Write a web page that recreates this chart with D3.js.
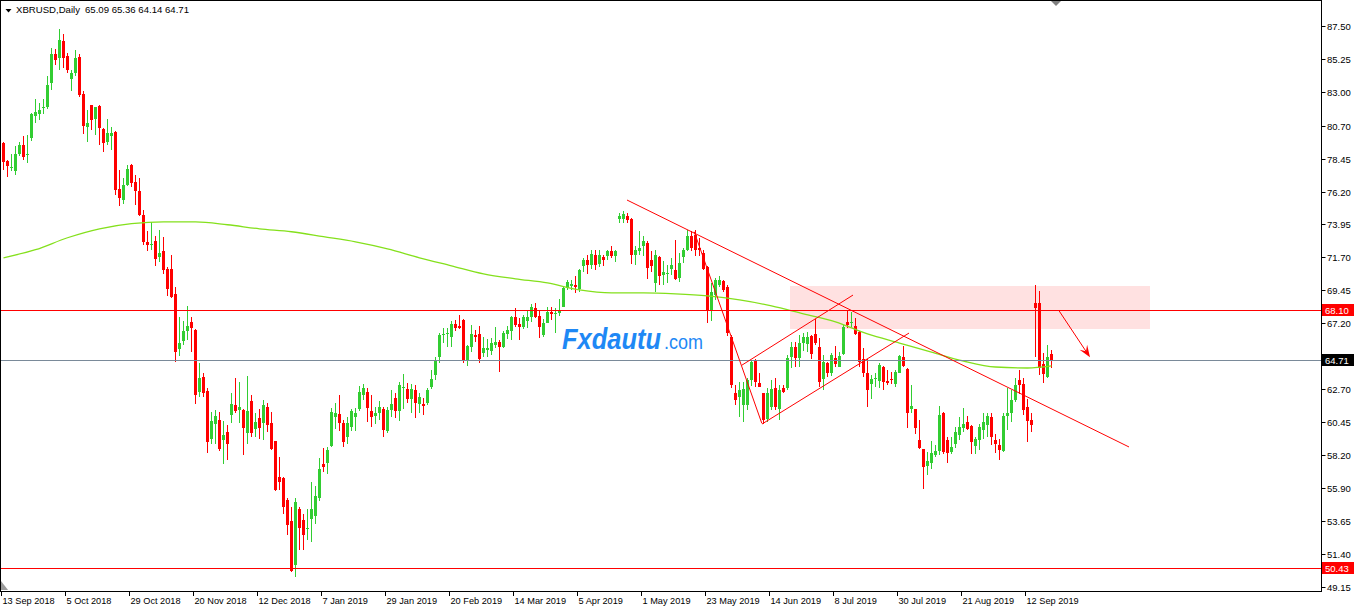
<!DOCTYPE html>
<html><head><meta charset="utf-8">
<script src="https://cdn.jsdelivr.net/npm/d3@7"></script>
<style>body{margin:0;background:#fff;}svg{display:block;font-family:"Liberation Sans",Arial,sans-serif;}</style>
</head><body><svg id="chart" width="1354" height="608"></svg>
<script>
// ---------- DATA ----------
const symbolLabel = "XBRUSD,Daily";
const lastQuote = [65.09, 65.36, 64.14, 64.71];
const startDate = "2018-09-13";
const holidays = ["2018-12-25","2019-01-01","2019-04-19","2019-04-22"];

const opens = [
79.53,78.31,77.81,77.58,78.80,79.39,78.70,79.85,81.36,81.49,
81.90,81.99,83.62,85.58,85.33,86.47,85.44,83.87,84.28,85.40,
82.84,80.60,82.09,81.13,82.04,80.46,79.62,79.98,80.26,76.37,
75.60,76.62,78.02,76.88,76.26,74.61,72.78,72.56,72.83,71.74,
72.15,70.87,70.91,69.20,65.43,65.98,66.67,67.28,66.73,62.51,
63.51,62.57,59.28,60.31,60.56,59.19,59.74,60.93,61.59,61.25,
61.27,59.70,61.89,59.97,60.72,60.38,61.48,60.36,59.12,56.68,
56.61,55.10,53.64,50.69,54.51,53.71,53.11,53.82,53.98,55.24,
57.55,57.64,58.83,60.75,60.98,60.38,59.42,60.11,60.79,61.32,
62.30,62.48,61.18,60.86,61.07,61.36,59.83,61.25,62.10,61.20,
62.76,62.69,62.00,62.62,61.66,61.66,61.75,62.80,63.65,64.91,
66.39,66.44,66.28,67.14,67.01,67.42,64.68,65.59,66.41,66.46,
65.13,65.36,65.32,65.71,65.93,65.59,66.46,66.69,67.65,67.14,
66.96,67.37,67.60,68.26,67.69,66.39,67.23,67.99,67.81,67.87,
68.33,69.59,69.75,69.82,69.52,71.08,71.53,71.19,71.87,71.26,
71.71,71.81,72.10,71.76,74.32,74.32,74.55,74.32,71.87,72.10,
72.45,72.67,71.49,69.93,71.71,70.50,70.57,70.89,70.80,70.27,
71.71,72.22,73.13,73.24,72.33,72.03,71.07,68.10,69.13,69.81,
70.09,69.70,66.27,62.44,62.16,61.59,61.59,63.31,64.63,63.12,
62.39,60.61,61.48,62.73,61.30,62.73,62.73,64.91,65.59,64.79,
65.82,65.77,66.32,66.46,65.54,63.35,64.49,63.76,64.79,64.22,
65.06,67.30,67.19,67.00,66.61,64.72,63.76,63.03,63.35,63.26,
64.22,63.26,63.39,63.07,63.80,64.90,64.05,61.33,61.31,59.19,
58.57,57.41,57.63,58.16,58.43,61.06,59.19,58.39,58.91,59.53,
60.06,60.44,60.15,58.77,59.22,59.87,60.22,60.79,59.19,58.84,
58.46,60.83,61.06,61.93,63.30,63.07,61.47,60.56,68.56,68.56,
64.40,63.53,65.09];

const highs = [
79.60,78.35,78.80,79.30,79.62,80.03,80.07,81.55,82.56,82.27,
82.56,84.10,86.04,85.92,87.29,86.95,85.65,84.51,85.85,85.58,
83.05,81.81,82.15,82.00,82.15,80.55,81.13,80.62,80.33,77.70,
77.15,78.00,78.05,77.36,77.15,74.96,73.52,74.13,73.13,73.58,
73.08,71.07,71.85,69.70,67.65,67.35,68.38,67.65,66.80,64.49,
63.79,62.73,61.11,61.25,61.09,60.50,60.22,62.41,63.42,63.19,
61.30,63.58,62.26,61.07,61.32,61.93,61.71,61.14,59.15,58.05,
56.68,55.24,54.62,55.24,54.62,54.17,54.51,56.34,56.04,57.98,
58.69,58.74,61.43,61.71,62.28,60.56,60.75,61.34,61.41,62.90,
63.06,62.78,62.28,61.48,61.87,61.48,61.48,62.62,62.44,63.19,
63.72,63.08,63.01,62.96,62.39,62.05,62.73,63.99,64.91,66.51,
66.85,66.85,67.37,67.42,67.76,67.49,65.71,67.08,66.73,67.01,
66.23,66.10,66.16,66.92,66.05,66.67,67.01,67.69,68.22,67.53,
67.76,68.06,68.52,68.56,68.06,67.46,68.29,68.29,68.22,68.84,
69.70,70.16,70.16,70.39,70.89,71.65,71.87,72.17,72.17,72.17,
71.87,72.22,72.49,72.22,74.73,74.84,74.73,74.39,72.45,73.47,
73.13,72.79,72.10,72.22,71.80,71.42,71.19,71.65,72.90,71.99,
72.33,73.59,73.47,73.59,73.01,72.22,71.10,69.93,70.27,70.39,
70.16,69.81,66.39,62.96,63.19,63.19,63.42,64.63,64.72,63.76,
62.44,62.73,63.31,63.42,62.96,62.96,65.02,65.93,65.93,66.39,
66.50,66.62,66.39,67.46,66.16,65.01,64.56,65.13,65.63,65.24,
67.07,68.10,67.98,67.53,66.65,65.47,64.72,63.64,63.80,64.45,
64.25,63.99,63.87,63.99,65.02,65.63,64.10,62.96,61.36,60.60,
58.60,58.39,59.14,58.84,61.52,61.10,59.41,59.41,60.10,60.79,
61.43,60.83,60.22,59.41,60.33,61.02,61.02,61.02,59.60,59.30,
61.06,62.73,62.61,63.48,63.99,63.48,62.04,61.02,69.81,69.42,
65.13,65.70,65.36];

const lows = [
77.65,77.20,77.58,77.35,78.61,78.38,78.15,79.64,80.90,81.08,
81.51,81.86,83.14,84.85,84.51,84.62,84.32,83.07,84.10,82.66,
80.12,79.57,80.44,80.10,79.37,78.89,79.37,79.07,75.98,75.18,
75.37,76.58,76.49,75.25,74.50,72.56,72.12,72.21,71.14,71.37,
70.57,69.08,68.90,64.56,64.95,65.71,66.05,65.25,61.66,62.16,
62.16,58.33,58.90,58.90,58.46,57.57,57.87,60.34,61.07,60.34,
58.17,58.92,59.42,59.42,59.28,59.19,59.76,58.51,55.72,55.77,
54.12,52.68,50.17,49.83,51.65,51.65,52.38,52.22,53.48,55.01,
57.02,56.86,58.74,59.97,59.81,58.74,58.92,59.83,59.83,61.18,
61.93,60.45,60.11,60.29,60.56,59.42,59.69,60.79,60.68,60.52,
61.36,61.71,61.07,60.68,61.02,60.95,61.59,62.67,63.31,64.45,
65.82,65.59,65.59,66.69,66.78,64.49,64.29,65.25,65.93,64.45,
64.86,64.91,65.02,65.48,63.88,65.48,66.10,66.05,66.96,66.05,
66.78,66.85,67.30,67.53,66.16,66.28,67.19,67.42,66.51,67.69,
68.29,69.47,69.47,69.25,69.36,70.73,70.57,70.89,70.85,71.03,
71.08,71.49,71.65,71.35,74.04,74.04,74.04,71.26,71.19,71.87,
71.76,70.21,70.73,69.36,69.81,69.81,69.93,70.50,70.16,70.04,
71.30,72.10,72.10,71.76,71.76,70.84,67.19,67.37,68.79,69.70,
69.36,66.32,62.73,61.59,60.79,60.45,61.25,62.89,62.85,62.80,
60.33,60.45,61.25,61.25,60.56,62.39,62.62,64.11,64.22,64.17,
65.31,65.24,64.72,65.70,62.84,62.62,63.53,63.58,64.22,64.17,
65.01,66.84,66.96,66.39,64.17,63.53,61.47,62.04,62.84,62.73,
62.66,62.96,63.07,62.84,63.76,64.22,60.06,61.08,59.64,58.62,
55.87,56.79,57.25,58.05,58.16,58.27,57.63,58.27,58.68,59.19,
59.76,59.87,58.27,58.23,58.55,59.30,59.41,58.84,58.32,57.82,
58.40,59.87,60.44,61.81,62.34,60.90,59.07,59.76,64.90,63.64,
63.12,63.48,64.14];

const closes = [
78.20,77.93,77.88,78.80,79.39,78.54,78.77,81.47,81.61,81.77,
81.99,83.52,85.58,85.19,86.54,85.33,84.51,84.28,85.31,82.77,
80.67,80.92,81.08,81.97,80.53,79.50,80.23,80.23,76.28,75.76,
76.67,77.77,76.81,76.21,74.57,72.72,72.51,72.60,71.62,72.03,
70.84,69.56,69.01,65.20,65.87,66.67,67.01,66.87,62.28,63.44,
62.44,59.08,60.50,60.84,58.60,59.54,58.92,61.66,61.20,61.46,
60.04,61.18,59.70,60.43,60.06,61.59,60.20,58.60,55.81,56.31,
54.62,53.37,50.28,54.97,53.18,52.68,53.21,54.51,55.35,57.21,
57.37,58.51,61.11,61.07,60.38,59.08,60.40,61.18,61.07,62.48,
62.76,61.41,60.79,61.04,61.48,59.92,61.25,61.66,61.20,62.96,
62.83,62.00,62.71,61.71,62.16,61.55,62.62,63.38,64.68,66.39,
66.46,66.51,67.14,66.85,66.89,64.68,65.64,66.46,66.28,64.75,
65.48,65.48,65.82,65.89,65.59,66.51,66.73,67.65,67.08,66.92,
67.65,67.65,68.29,67.60,66.92,67.23,67.99,67.81,67.92,68.10,
69.63,69.98,69.86,69.66,70.85,71.49,71.19,71.94,71.19,71.87,
71.49,72.10,71.81,72.15,74.55,74.66,74.27,71.87,72.22,72.33,
72.79,70.96,71.08,71.87,70.39,70.73,70.66,71.19,70.20,71.30,
72.22,73.13,72.33,72.22,72.17,70.89,68.10,69.36,70.16,70.16,
69.47,66.50,62.96,61.93,62.62,62.67,63.31,64.56,63.19,62.85,
60.56,62.39,62.67,61.48,62.62,62.51,64.79,65.59,64.79,65.82,
66.27,66.27,65.08,65.86,63.19,64.56,63.76,65.01,64.40,64.95,
66.96,67.07,67.30,66.45,64.56,63.80,62.62,63.35,63.46,64.33,
63.19,63.12,63.35,63.87,64.95,64.26,61.06,61.52,60.06,58.66,
57.36,57.75,58.32,58.43,60.90,58.39,58.32,58.73,59.76,60.10,
60.33,59.99,59.07,59.27,60.10,60.44,60.83,59.42,58.96,58.50,
60.83,61.02,61.93,62.96,62.96,61.25,60.51,60.22,68.21,64.10,
63.71,64.85,64.71];

// moving average (at every 8th bar)
const maIndex  = [0,8,16,24,32,40,48,56,64,72,80,88,96,104,112,120,128,136,144,152,160,168,176,184,192,200,208,216,224,232,240,248,256,262];
const maValues = [71.67,72.22,73.04,73.65,74.00,74.13,74.13,73.93,73.65,73.45,73.11,72.76,72.28,71.67,71.12,70.57,70.23,69.95,69.47,69.27,69.27,69.20,69.06,68.79,68.38,67.83,67.28,66.46,65.84,65.22,64.61,64.20,64.13,64.27];

const priceTicks = [87.50,85.25,83.00,80.70,78.45,76.20,73.95,71.70,69.45,67.20,64.95,62.70,60.45,58.20,55.90,53.65,51.40,49.15];
const dateTicks = ["13 Sep 2018","5 Oct 2018","29 Oct 2018","20 Nov 2018","12 Dec 2018","7 Jan 2019","29 Jan 2019","20 Feb 2019","14 Mar 2019","5 Apr 2019","1 May 2019","23 May 2019","14 Jun 2019","8 Jul 2019","30 Jul 2019","21 Aug 2019","12 Sep 2019"];

const resistanceLevel = 68.10;
const supportLevel = 50.43;
const bidLevel = lastQuote[3];

// drawn objects: [bar1, price1, bar2, price2]
const zone = [196.75, 69.74, 286.75, 66.80];
const trendLines = [
  [156.0, 75.62, 281.5, 58.73],
  [172.8, 73.45, 189.7, 60.35],
  [189.75, 60.30, 226.5, 66.52],
  [184.75, 64.33, 212.5, 69.12]
];
const arrowLine = [264.0, 68.05, 271.75, 64.86];
const watermark = ["Fxdautu", ".com"];

// ---------- CATEGORIES ----------
const monthNames = ["Jan","Feb","Mar","Apr","May","Jun","Jul","Aug","Sep","Oct","Nov","Dec"];
const categories = [];
{
  let d = new Date(startDate + "T12:00:00Z");
  while (categories.length < closes.length) {
    const iso = d.toISOString().slice(0,10);
    const wd = d.getUTCDay();
    if (wd !== 0 && wd !== 6 && !holidays.includes(iso)) {
      categories.push(d.getUTCDate() + " " + monthNames[d.getUTCMonth()] + " " + d.getUTCFullYear());
    }
    d = new Date(d.getTime() + 86400000);
  }
}

// ---------- SCALES ----------
const W = 1354, H = 608, plotR = 1321, plotB = 591;
const x = d3.scaleLinear().domain([-0.75, 329.75]).range([0, 1322]);
const y = d3.scaleLinear().domain([48.88, 89.30]).range([plotB, 0]);

const svg = d3.select("#chart");
svg.append("rect").attr("width", W).attr("height", H).attr("fill", "#fff");
svg.append("defs").append("clipPath").attr("id","plot").append("rect")
  .attr("x",1).attr("y",1).attr("width",plotR-1).attr("height",plotB-1);
const plot = svg.append("g").attr("clip-path","url(#plot)");

const green = "#32cd32", red = "#ff0000";

// zone rectangle (background)
plot.append("rect")
  .attr("x", x(zone[0])).attr("y", y(zone[1]))
  .attr("width", x(zone[2]) - x(zone[0])).attr("height", y(zone[3]) - y(zone[1]))
  .attr("fill", "#ffe1e1");

// candles
const bars = d3.range(closes.length).map(i => ({i, o:opens[i], h:highs[i], l:lows[i], c:closes[i]}));
const cg = plot.append("g");
bars.forEach(b => {
  const cx = Math.round(x(b.i));
  const col = b.c >= b.o ? green : red;
  const yh = Math.round(y(b.h)), yl = Math.round(y(b.l));
  cg.append("rect").attr("x", cx).attr("y", yh).attr("width", 1).attr("height", Math.max(1, yl - yh)).attr("fill", col);
  const yt = Math.round(y(Math.max(b.o, b.c))), yb = Math.round(y(Math.min(b.o, b.c)));
  cg.append("rect").attr("x", cx - 1).attr("y", yt).attr("width", 3).attr("height", Math.max(1, yb - yt)).attr("fill", col);
});

// moving average
plot.append("path")
  .datum(maIndex.map((k, j) => [k, maValues[j]]))
  .attr("fill","none").attr("stroke","#84e01c").attr("stroke-width",1.3)
  .attr("d", d3.line().x(d => x(d[0]) + 0.5).y(d => y(d[1])).curve(d3.curveMonotoneX));

// horizontal levels
const hl = (p, col) => plot.append("line").attr("x1",0).attr("x2",plotR).attr("y1",Math.round(y(p))+0.5).attr("y2",Math.round(y(p))+0.5).attr("stroke",col).attr("stroke-width",1);
hl(resistanceLevel, red);
hl(bidLevel, "#7a8a99");
hl(supportLevel, red);

// trend lines
trendLines.forEach(t => {
  plot.append("line").attr("x1", x(t[0])).attr("y1", y(t[1])).attr("x2", x(t[2])).attr("y2", y(t[3]))
    .attr("stroke", red).attr("stroke-width", 1);
});
// arrow
{
  const x1 = x(arrowLine[0]), y1 = y(arrowLine[1]), x2 = x(arrowLine[2]), y2 = y(arrowLine[3]);
  const len = Math.hypot(x2-x1, y2-y1), ux = (x2-x1)/len, uy = (y2-y1)/len;
  const hlen = 12, hw = 4.5;
  plot.append("line").attr("x1",x1).attr("y1",y1).attr("x2",x2 - ux*6).attr("y2",y2 - uy*6).attr("stroke",red).attr("stroke-width",1);
  const bx = x2 - ux*hlen, by = y2 - uy*hlen;
  plot.append("polygon").attr("points", [[x2,y2],[bx - uy*hw, by + ux*hw],[x2 - ux*hlen*0.6, y2 - uy*hlen*0.6],[bx + uy*hw, by - ux*hw]].map(p=>p.join(",")).join(" "))
    .attr("fill", red);
}

// watermark (single text element with two runs)
const wm = svg.append("text").attr("x", 562).attr("y", 349).attr("fill", "#1e88f5");
wm.append("tspan").attr("font-size", 29).attr("font-weight","bold").attr("font-style","italic")
  .attr("textLength", 99).attr("lengthAdjust","spacingAndGlyphs").text(watermark[0]);
wm.append("tspan").attr("x", 664).attr("font-size", 21)
  .attr("textLength", 39).attr("lengthAdjust","spacingAndGlyphs").text(watermark[1]);

// frame
svg.append("rect").attr("x",0.5).attr("y",0.5).attr("width",plotR).attr("height",plotB).attr("fill","none").attr("stroke","#000");

// right price axis
const ax = svg.append("g");
priceTicks.forEach(p => {
  const yy = Math.round(y(p)) + 0.5;
  ax.append("line").attr("x1", plotR+0.5).attr("x2", plotR+4.5).attr("y1", yy).attr("y2", yy).attr("stroke","#000");
  ax.append("text").attr("x", plotR+6).attr("y", yy).attr("dy","0.35em").attr("font-size",9.5).attr("fill","#000").text(p.toFixed(2));
});
const priceBox = (p, bg) => {
  const yy = Math.round(y(p)) + 0.5;
  ax.append("rect").attr("x", plotR+1).attr("y", yy-6.5).attr("width", W-plotR-1).attr("height", 12).attr("fill", bg);
  ax.append("text").attr("x", plotR+4).attr("y", yy).attr("dy","0.35em").attr("font-size",9.5).attr("fill","#fff").text(p.toFixed(2));
};
priceBox(resistanceLevel, red);
priceBox(bidLevel, "#000");
priceBox(supportLevel, red);

// bottom date axis
dateTicks.forEach(lbl => {
  const i = categories.indexOf(lbl);
  if (i < 0) return;
  const xx = Math.round(x(i)) - 1.5;
  ax.append("line").attr("x1", xx).attr("x2", xx).attr("y1", plotB).attr("y2", plotB+5).attr("stroke","#000");
  ax.append("text").attr("x", xx + 1).attr("y", 604).attr("font-size",9.2).attr("fill","#000").text(lbl);
});

// markers
svg.append("polygon").attr("points","1,581 1,590 8,590").attr("fill","#9a9a9a");
svg.append("polygon").attr("points","1051,1 1061,1 1056,6").attr("fill","#808080");
svg.append("polygon").attr("points","5.5,9 11.5,9 8.5,12.5").attr("fill","#000");

// header
svg.append("text").attr("x",16).attr("y",13).attr("font-size",9.6).attr("fill","#000").text(symbolLabel);
svg.append("text").attr("x",85).attr("y",13).attr("font-size",9.6).attr("fill","#000").text(lastQuote.map(v=>v.toFixed(2)).join(" "));
</script></body></html>
